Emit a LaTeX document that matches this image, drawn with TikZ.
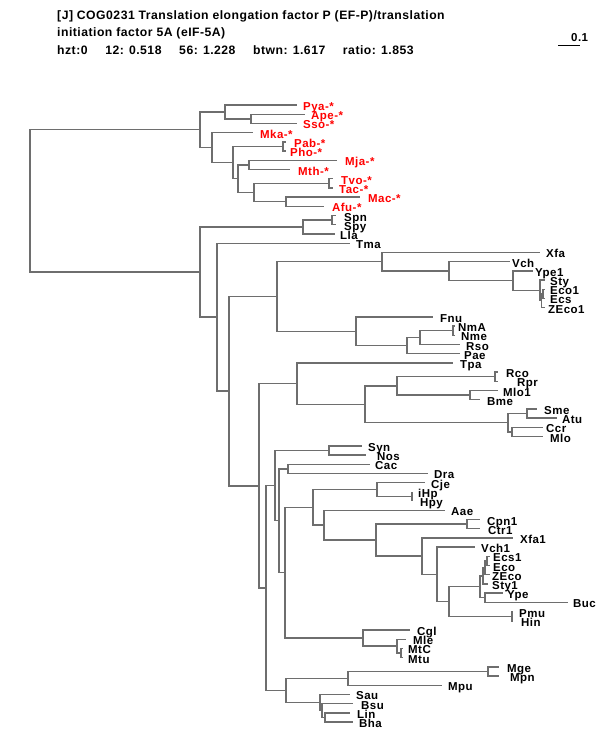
\documentclass[tikz,border=0pt]{standalone}
\usepackage{fontspec}
\usetikzlibrary{calc}
\definecolor{treegray}{HTML}{6E6E6E}
\newfontfamily\phylofont{Liberation Sans}[LetterSpace=4]
\newcommand\labfont{\phylofont\bfseries\fontsize{11.5}{12}\selectfont}
\newcommand\headfont{\phylofont\bfseries\fontsize{12.2}{14}\selectfont}
% leaf: name, y, end of branch, left of label
\newcommand\leaf[4]{\coordinate (#1) at (#3,#2);
  \node[leaflabel] (l#1) at (#4,{#2+5.5}) {#1};}
\newcommand\aleaf[4]{\coordinate (#1) at (#3,#2);
  \node[leaflabel,text=red] (l#1) at (#4,{#2+5.5}) {#1-*};}
% clade: name, x, upper child, lower child
\newcommand\clade[4]{%
  \path let \p1=($(#3)!.5!(#4)$) in (#2pt,\y1) coordinate (#1);
  \draw[branch] (#1) |- (#3);
  \draw[branch] (#1) |- (#4);}

\begin{document}
\begin{tikzpicture}[x=1pt,y=-1pt,
  branch/.style={draw=treegray,line width=1.4pt},
  leaflabel/.style={font=\labfont,inner sep=0pt,anchor=base west},
  headtext/.style={font=\headfont,inner sep=0pt,anchor=base west}]
\useasboundingbox (0,0) rectangle (600,750);
% header
\node[headtext] (head1) at (57,19) {[J] COG0231 Translation elongation factor P (EF-P)/translation};
\node[headtext] (head2) at (57,36.5) {initiation factor 5A (eIF-5A)};
\node[headtext] (head3) at (57,54) {hzt:0\hspace{1.45em}12: 0.518\hspace{1.45em}56: 1.228\hspace{1.45em}btwn: 1.617\hspace{1.45em}ratio: 1.853};
\coordinate (sbl) at (558,45);
\coordinate (sbr) at (580,45);
\draw[line width=0.9pt] (sbl) -- (sbr);
\node[leaflabel] (sbtext) at (571,41) {0.1};
% archaea
\aleaf{Pya}{105.0}{297}{303}
\aleaf{Ape}{114.2}{305}{311}
\aleaf{Sso}{123.4}{297}{303}
\aleaf{Mka}{132.6}{253}{260}
\aleaf{Pab}{141.8}{286}{294}
\aleaf{Pho}{151.1}{286}{290}
\aleaf{Mja}{160.3}{337}{345}
\aleaf{Mth}{169.5}{290}{298}
\aleaf{Tvo}{178.7}{333}{341}
\aleaf{Tac}{187.9}{333}{339}
\aleaf{Mac}{197.1}{360}{368}
\aleaf{Afu}{206.3}{324}{332}
% bacteria
\leaf{Spn}{215.5}{336}{344}
\leaf{Spy}{224.7}{336}{344}
\leaf{Lla}{233.9}{335}{340}
\leaf{Tma}{243.2}{350}{356}
\leaf{Xfa}{252.4}{540}{546}
\leaf{Vch}{261.6}{510}{512}
\leaf{Ype1}{270.8}{533}{535}
\leaf{Sty}{280.0}{545}{550}
\leaf{Eco1}{289.2}{545}{550}
\leaf{Ecs}{298.4}{545}{550}
\leaf{ZEco1}{307.6}{545}{548}
\leaf{Fnu}{316.8}{433}{440}
\leaf{NmA}{326.0}{455}{458}
\leaf{Nme}{335.3}{455}{461}
\leaf{Rso}{344.5}{460}{466}
\leaf{Pae}{353.7}{460}{464}
\leaf{Tpa}{362.9}{453}{460}
\leaf{Rco}{372.1}{498}{506}
\leaf{Rpr}{381.3}{498}{517}
\leaf{Mlo1}{390.5}{498}{503}
\leaf{Bme}{399.7}{480}{487}
\leaf{Sme}{408.9}{537}{544}
\leaf{Atu}{418.1}{557}{562}
\leaf{Ccr}{427.4}{543}{546}
\leaf{Mlo}{436.6}{543}{550}
\leaf{Syn}{445.8}{362}{368}
\leaf{Nos}{455.0}{366}{377}
\leaf{Cac}{464.2}{370}{375}
\leaf{Dra}{473.4}{428}{434}
\leaf{Cje}{482.6}{425}{431}
\leaf{iHp}{491.8}{412}{418}
\leaf{Hpy}{501.0}{412}{420}
\leaf{Aae}{510.2}{445}{451}
\leaf{Cpn1}{519.5}{480}{487}
\leaf{Ctr1}{528.7}{480}{488}
\leaf{Xfa1}{537.9}{513}{520}
\leaf{Vch1}{547.1}{475}{481}
\leaf{Ecs1}{556.3}{490}{493}
\leaf{Eco}{565.5}{490}{493}
\leaf{ZEco}{574.7}{490}{492}
\leaf{Sty1}{583.9}{488}{492}
\leaf{Ype}{593.1}{503}{507}
\leaf{Buc}{602.3}{568}{573}
\leaf{Pmu}{611.6}{513}{519}
\leaf{Hin}{620.8}{513}{521}
\leaf{Cgl}{630.0}{410}{417}
\leaf{Mle}{639.2}{406}{413}
\leaf{MtC}{648.4}{403}{408}
\leaf{Mtu}{657.6}{403}{408}
\leaf{Mge}{666.8}{499}{507}
\leaf{Mpn}{676.0}{499}{510}
\leaf{Mpu}{685.2}{442}{448}
\leaf{Sau}{694.4}{350}{356}
\leaf{Bsu}{703.7}{353}{361}
\leaf{Lin}{712.9}{350}{357}
\leaf{Bha}{722.1}{353}{359}
% archaeal clades
\clade{cAS}{251}{Ape}{Sso}
\clade{cPy}{225}{Pya}{cAS}
\clade{cPP}{283}{Pab}{Pho}
\clade{cMM}{249}{Mja}{Mth}
\clade{cTT}{329}{Tvo}{Tac}
\clade{cMA}{286}{Mac}{Afu}
\clade{cTM}{254}{cTT}{cMA}
\clade{cEu3}{238}{cMM}{cTM}
\clade{cEu2}{233}{cPP}{cEu3}
\clade{cEu1}{212}{Mka}{cEu2}
\clade{cArc}{200}{cPy}{cEu1}
% bacterial clades
\clade{cSS}{332}{Spn}{Spy}
\clade{cStr}{303}{cSS}{Lla}
\clade{cEE}{543}{Eco1}{Ecs}
\clade{cE3}{541.5}{cEE}{ZEco1}
\clade{cE2}{540}{Sty}{cE3}
\clade{cE1}{513}{Ype1}{cE2}
\clade{cGam}{449}{Vch}{cE1}
\clade{cXan}{382}{Xfa}{cGam}
\clade{cNN}{453}{NmA}{Nme}
\clade{cNR}{420}{cNN}{Rso}
\clade{cNP}{407}{cNR}{Pae}
\clade{cFu}{356}{Fnu}{cNP}
\clade{cK}{277}{cXan}{cFu}
\clade{cRR}{495}{Rco}{Rpr}
\clade{cMB}{470}{Mlo1}{Bme}
\clade{cRM}{397}{cRR}{cMB}
\clade{cSA}{527}{Sme}{Atu}
\clade{cCM}{512}{Ccr}{Mlo}
\clade{cSC}{508}{cSA}{cCM}
\clade{cAlp}{365}{cRM}{cSC}
\clade{cTp}{297}{Tpa}{cAlp}
\clade{cSN}{329}{Syn}{Nos}
\clade{cCD}{288}{Cac}{Dra}
\clade{cHH}{412}{iHp}{Hpy}
\clade{cEps}{377}{Cje}{cHH}
\clade{cCC}{467}{Cpn1}{Ctr1}
\clade{cEc}{487}{Ecs1}{Eco}
\clade{cEz}{485}{cEc}{ZEco}
\clade{cEs}{483}{cEz}{Sty1}
\clade{cYB}{485}{Ype}{Buc}
\clade{cEnt}{480}{cEs}{cYB}
\clade{cPH}{512}{Pmu}{Hin}
\clade{cG2}{449}{cEnt}{cPH}
\clade{cG1}{437}{Vch1}{cG2}
\clade{cXg}{422}{Xfa1}{cG1}
\clade{cY1}{376}{cCC}{cXg}
\clade{cY2}{324}{Aae}{cY1}
\clade{cX1}{313}{cEps}{cY2}
\clade{cMt}{401}{MtC}{Mtu}
\clade{cML}{397}{Mle}{cMt}
\clade{cCg}{363}{Cgl}{cML}
\clade{cP1}{285}{cX1}{cCg}
\clade{cR1}{279}{cCD}{cP1}
\clade{cBC}{275}{cSN}{cR1}
\clade{cMG}{488}{Mge}{Mpn}
\clade{cMP}{348}{cMG}{Mpu}
\clade{cLB}{325}{Lin}{Bha}
\clade{cBL}{322}{Bsu}{cLB}
\clade{cSB}{320}{Sau}{cBL}
\clade{cFir}{286}{cMP}{cSB}
\clade{cT2}{266}{cBC}{cFir}
\clade{cT}{259}{cTp}{cT2}
\clade{cJ}{229}{cK}{cT}
\clade{cI}{217}{Tma}{cJ}
\clade{cBac}{200}{cStr}{cI}
\clade{cRoot}{30}{cArc}{cBac}
\end{tikzpicture}
\end{document}
